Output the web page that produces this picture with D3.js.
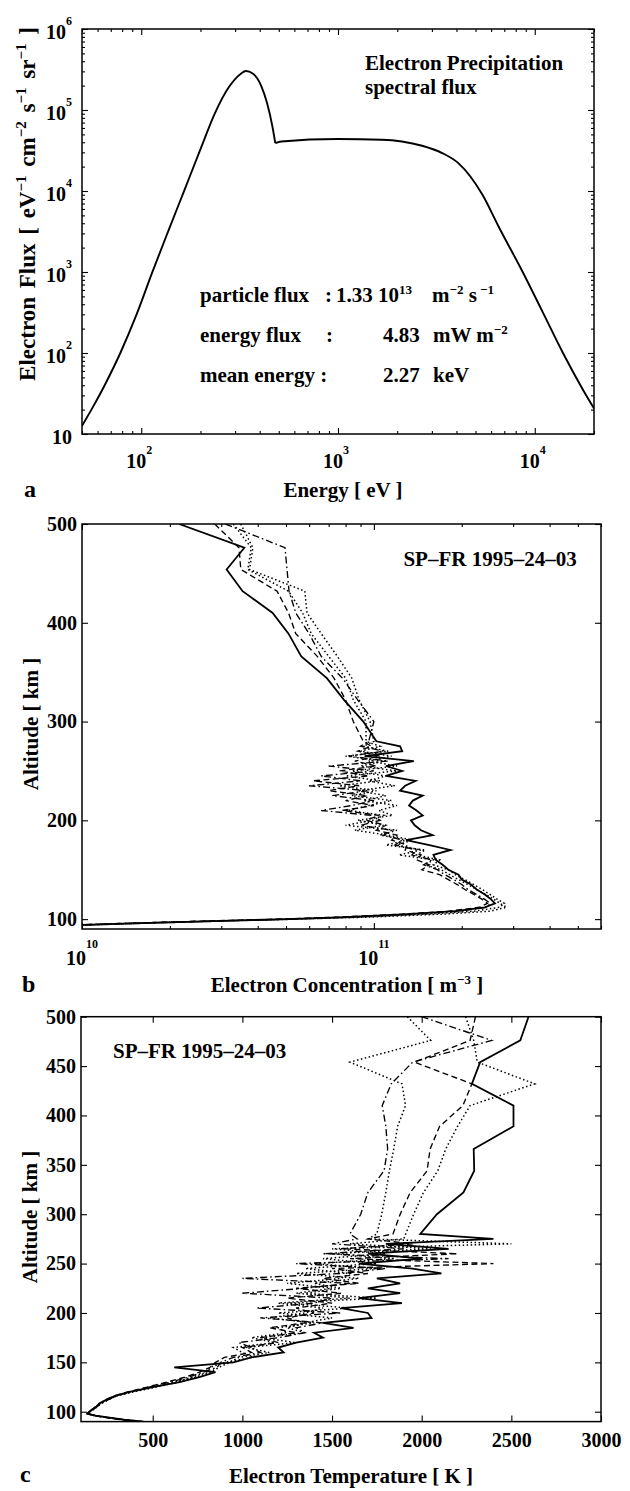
<!DOCTYPE html>
<html><head><meta charset="utf-8">
<script src="https://cdn.jsdelivr.net/npm/d3@7"></script>
<style>
body{margin:0;background:#fff}
svg text{font-family:"Liberation Serif","Times New Roman",Times,serif;font-weight:bold;fill:#000;white-space:pre}
</style>
</head><body>
<svg id="fig" width="630" height="1491"></svg>
<script>
// ---------------- DATA ----------------
// Panel a: electron precipitation spectrum
const energyEV = [50, 56.3, 64.9, 78.3, 94.5, 114, 138, 166, 201, 237, 279, 321, 340, 370, 407, 436, 464, 480, 515, 1000, 1670, 2113, 2676, 3386, 4088, 4708, 5424, 6546, 8683, 10990, 13910, 17600, 20000];
const electronFlux = [12.6, 20.7, 39.2, 100, 295, 1004, 3316, 10340, 33860, 91600, 192000, 281000, 303000, 281000, 199000, 122000, 62700, 39000, 40900, 43800, 43000, 40900, 36200, 29400, 22080, 15120, 8970, 3646, 1000, 317, 100, 35, 20.7];
const kinkIndex = 17; // sharp corner at 480 eV

// Panels b and c: shared altitude grid [km]
const altitudes = [500,476,454,432,410,389,366,344,322,300,280,
  275,270,265,260,255,250,245,240,235,230,225,220,215,210,205,200,195,190,185,180,175,170,165,160,155,150,145,140,135,130,125,120,
  116,112,108,105,102,100,98,96,94,92,90];

// Panel b: electron concentration, units of 1e10 m^-3
const neSolid = [2.15,3.6,3.13,3.55,4.5,5.1,5.64,6.9,7.9,9.2,10.2,
  12.3,12.5,9.3,13.7,11.0,12.5,11.0,13.9,12.8,12.3,14.7,13.6,13.2,14.0,14.7,13.4,13.8,14.5,15.9,12.9,15.5,18.3,16.0,16.3,17.2,18.0,19.5,20.0,21.5,22.5,24.0,25.2,
  26.0,24.0,19.0,13.0,8.0,5.0,2.8,1.6,0.95,0.8,0.6];
const neDashDot = [3.1,4.96,5.04,5.12,5.4,6.0,6.6,7.8,8.8,10.0,9.6,
  9.0,10.8,8.2,11.2,7.0,10.0,6.6,9.0,6.0,9.5,7.2,10.0,8.4,6.6,9.8,10.5,9.0,11.5,10.8,12.5,11.8,14.0,13.5,15.8,14.8,16.5,17.5,18.8,20.0,21.0,22.5,24.0,
  25.0,24.5,19.5,13.5,8.0,5.0,2.7,1.5,0.95,0.75,0.55];
const neDotted1 = [3.3,3.8,3.7,5.1,5.7,6.1,7.0,8.0,8.5,9.4,9.4,
  10.5,9.0,11.5,9.6,12.0,8.4,11.0,9.6,11.8,8.8,11.0,9.2,12.0,10.4,11.6,8.8,10.8,8.6,11.2,13.5,12.0,14.5,12.2,16.0,15.0,17.0,18.2,19.5,21.0,22.5,24.2,25.8,
  27.0,28.5,25.0,17.0,9.5,5.5,3.0,1.7,1.05,0.8,0.6];
const neDashed = [2.85,3.45,3.5,4.66,5.1,5.4,6.4,7.3,8.0,8.5,9.2,
  9.8,8.8,10.5,8.6,10.2,7.6,9.6,6.2,8.9,7.0,9.5,8.0,10.0,7.8,10.4,9.4,11.0,10.2,12.0,11.5,13.0,12.8,14.5,14.0,15.5,14.6,16.8,18.0,19.3,20.5,22.0,23.5,
  24.5,23.0,18.0,12.5,7.5,4.8,2.6,1.5,0.95,0.75,0.55];
const neDotted2 = [3.5,3.85,3.75,5.8,5.9,6.6,7.5,8.4,8.9,9.7,10.0,
  9.2,11.2,8.0,10.8,9.0,12.0,8.0,10.5,7.6,10.2,8.4,11.5,9.6,8.2,10.8,9.9,8.0,12.0,10.5,13.0,11.0,15.0,14.0,16.8,16.0,18.0,19.0,20.5,22.0,23.5,25.0,26.5,
  28.0,27.0,22.0,15.0,9.0,5.5,3.0,1.7,1.05,0.8,0.6];

// Panel c: electron temperature [K]
const teSolid = [2596,2550,2326,2280,2512,2512,2290,2293,2233,2085,1992,
  2400,1800,2150,1700,2000,1650,1950,2110,1750,1880,1700,1880,1650,1890,1550,1700,1720,1450,1620,1400,1450,1300,1200,1230,1050,950,620,850,760,650,500,370,
  290,240,200,185,160,145,135,180,260,340,450];
const teDashDot = [2000,2390,1950,1830,1780,1800,1810,1790,1700,1660,1600,
  1640,1500,1900,1450,2150,1300,1800,1550,1000,1600,1350,1000,1500,1400,1080,1550,1100,1450,1300,1350,1200,980,1050,1100,950,880,860,780,700,600,480,370,
  300,250,210,190,165,150,140,185,250,330,430];
const teDashed = [2300,2270,1960,2280,2230,2100,2047,2030,1936,1880,1840,
  1700,1950,1550,2200,1600,2400,1500,1700,1450,1650,1300,1550,1250,1500,1300,1400,1250,1350,1150,1300,1100,1200,1000,1050,900,850,820,760,680,580,470,360,
  285,235,200,180,160,145,135,170,240,320,440];
const teDotted1 = [1920,2050,1600,1890,1910,1866,1844,1820,1800,1777,1750,
  1700,2500,1500,1800,1450,1750,1350,1600,1550,1250,1500,1300,1600,1200,1450,1350,1150,1400,1200,1250,1050,1180,950,1000,1060,900,820,800,720,620,500,380,
  295,245,205,185,165,150,140,175,245,330,440];
const teDotted2 = [2245,2290,2310,2630,2270,2200,2134,2090,2010,1955,1911,
  1900,1600,2050,1500,1850,1400,1750,1300,1650,1400,1550,1350,1750,1250,1600,1200,1500,1350,1250,1350,1100,1300,1020,1150,980,930,870,820,740,640,520,390,
  300,250,210,190,170,150,140,175,250,335,445];

// Tick values and labels
const aXTicks = [100, 1000, 10000];
const aXTickExp = ["2", "3", "4"];
const aYTicks = [10, 100, 1000, 10000, 100000, 1000000];
const aYTickExp = ["", "2", "3", "4", "5", "6"];
const bXTicks = [1e10, 1e11];
const bXTickExp = ["10", "11"];
const altTicksB = [100, 200, 300, 400, 500];
const altTicksC = [100, 150, 200, 250, 300, 350, 400, 450, 500];
const tempTicks = [500, 1000, 1500, 2000, 2500, 3000];

// ---------------- DRAWING ----------------
const svg = d3.select("#fig");
const lineStyles = [
  {name:"dashdot", dash:"7,3,1.6,3", w:1.35},
  {name:"dotted1", dash:"1.5,2.5", w:1.5},
  {name:"dashed", dash:"6,3.5", w:1.35},
  {name:"dotted2", dash:"1.5,2.5", w:1.5},
  {name:"solid", dash:null, w:1.8}
];

function rich(parent, x, y, parts, o = {}) {
  const size = o.size || 20, supSize = o.supSize || Math.round(size * 0.62), raise = o.raise || Math.round(size * 0.5);
  const t = parent.append("text").attr("x", x).attr("y", y).attr("font-size", size)
    .attr("text-anchor", o.anchor || "start");
  if (o.transform) t.attr("transform", o.transform);
  if (o.wordSpacing) t.attr("word-spacing", o.wordSpacing);
  let up = false;
  parts.forEach(p => {
    const isSup = Array.isArray(p);
    const ts = t.append("tspan").text(isSup ? p[0] : p);
    if (isSup) { ts.attr("font-size", supSize); if (!up) { ts.attr("dy", -raise); up = true; } }
    else if (up) { ts.attr("dy", raise); up = false; }
  });
  return t;
}

function frame(g, x, y, xMaj, xMin, yMaj, yMin) {
  const [x0, x1] = x.range(), [y0, y1] = y.range();
  const ax = (gen, tr, vals, len) => {
    const a = g.append("g").attr("transform", tr).call(gen.tickValues(vals).tickSize(-len).tickFormat(""));
    a.select(".domain").remove();
    a.selectAll("line").attr("stroke", "#000").attr("stroke-width", 1.1);
  };
  ax(d3.axisBottom(x), `translate(0,${y0})`, xMaj, 6);
  ax(d3.axisTop(x), `translate(0,${y1})`, xMaj, 6);
  ax(d3.axisLeft(y), `translate(${x0},0)`, yMaj, 6);
  ax(d3.axisRight(y), `translate(${x1},0)`, yMaj, 6);
  if (xMin.length) { ax(d3.axisBottom(x), `translate(0,${y0})`, xMin, 3); ax(d3.axisTop(x), `translate(0,${y1})`, xMin, 3); }
  if (yMin.length) { ax(d3.axisLeft(y), `translate(${x0},0)`, yMin, 3); ax(d3.axisRight(y), `translate(${x1},0)`, yMin, 3); }
  g.append("rect").attr("x", x0).attr("y", y1).attr("width", x1 - x0).attr("height", y0 - y1)
    .attr("fill", "none").attr("stroke", "#000").attr("stroke-width", 1.5);
}

function clip(id, x, y) {
  const [x0, x1] = x.range(), [y0, y1] = y.range();
  svg.append("clipPath").attr("id", id).append("rect")
    .attr("x", x0).attr("y", y1).attr("width", x1 - x0).attr("height", y0 - y1);
}

// ===== Panel a =====
{
  const x = d3.scaleLog().domain([50, 20000]).range([82, 594]);
  const y = d3.scaleLog().domain([10, 1e6]).range([434, 29]);
  const g = svg.append("g");
  clip("clipA", x, y);
  const pts = energyEV.map((e, i) => ({e, f: electronFlux[i]}));
  const line = d3.line().x(d => x(d.e)).y(d => y(d.f)).curve(d3.curveMonotoneX);
  [pts.slice(0, kinkIndex + 1), pts.slice(kinkIndex)].forEach(seg =>
    g.append("path").attr("d", line(seg)).attr("fill", "none").attr("stroke", "#000")
      .attr("stroke-width", 1.9).attr("clip-path", "url(#clipA)"));
  const xMin = x.ticks().filter(v => !aXTicks.includes(v));
  const yMin = y.ticks().filter(v => !aYTicks.includes(v));
  frame(g, x, y, aXTicks, xMin, aYTicks, yMin);
  aXTicks.forEach((v, i) => rich(g, x(v) - 2, 468, ["10", [aXTickExp[i]]], {size: 20, supSize: 12, raise: 14, anchor: "middle"}));
  aYTicks.forEach((v, i) => {
    const parts = aYTickExp[i] ? ["10", [aYTickExp[i]]] : ["10"];
    rich(g, 72, y(v) + 10, parts, {size: 20, supSize: 12, raise: 14, anchor: "end"});
  });
  rich(g, 343, 497, ["Energy [ eV ]"], {size: 21, anchor: "middle"});
  rich(g, 24, 497, ["a"], {size: 24});
  rich(g, 0, 0, ["Electron Flux [ eV", ["−1"], " cm", ["−2"], " s", ["−1"], " sr", ["−1"], " ]"],
    {size: 23, supSize: 15, raise: 9, anchor: "middle", wordSpacing: 3, transform: "translate(35,204) rotate(-90)"});
  rich(g, 365, 70, ["Electron Precipitation"], {size: 21});
  rich(g, 365, 94, ["spectral flux"], {size: 21});
  rich(g, 200, 302, ["particle flux"], {size: 21});
  rich(g, 325, 302, [":"], {size: 21});
  rich(g, 336, 302, ["1.33 10", ["13"]], {size: 21, supSize: 13, raise: 8});
  rich(g, 432, 302, ["m", ["−2"], " s", [" −1"]], {size: 21, supSize: 13, raise: 8});
  rich(g, 200, 342, ["energy flux"], {size: 21});
  rich(g, 326, 342, [":"], {size: 21});
  rich(g, 383, 342, ["4.83"], {size: 21});
  rich(g, 433, 342, ["mW m", ["−2"]], {size: 21, supSize: 13, raise: 8});
  rich(g, 200, 382, ["mean energy :"], {size: 21});
  rich(g, 383, 382, ["2.27"], {size: 21});
  rich(g, 433, 382, ["keV"], {size: 21});
}

// ===== Panel b =====
{
  const x = d3.scaleLog().domain([1e10, 6e11]).range([82, 601]);
  const y = d3.scaleLinear().domain([90, 500]).range([929, 524]);
  const g = svg.append("g");
  clip("clipB", x, y);
  const series = [neDashDot, neDotted1, neDashed, neDotted2, neSolid];
  const line = d3.line().x(d => x(d.v * 1e10)).y(d => y(d.a));
  series.forEach((s, k) => {
    const st = lineStyles[k];
    g.append("path").attr("d", line(altitudes.map((a, i) => ({a, v: s[i]}))))
      .attr("fill", "none").attr("stroke", "#000").attr("stroke-width", st.w)
      .attr("stroke-dasharray", st.dash).attr("clip-path", "url(#clipB)");
  });
  const xMin = x.ticks().filter(v => !bXTicks.includes(v));
  frame(g, x, y, bXTicks, xMin, altTicksB, []);
  bXTicks.forEach((v, i) => rich(g, x(v), 965, ["10", [bXTickExp[i]]], {size: 20, supSize: 12, raise: 17, anchor: "middle"}));
  const yl = g.append("g").attr("transform", "translate(82,0)")
    .call(d3.axisLeft(y).tickValues(altTicksB).tickSize(0).tickPadding(5).tickFormat(d3.format("d")));
  yl.select(".domain").remove();
  yl.selectAll("text").attr("font-size", 20).attr("font-family", null);
  rich(g, 347, 992, ["Electron Concentration [ m", ["−3"], " ]"], {size: 21, supSize: 13, raise: 8, anchor: "middle"});
  rich(g, 22, 992, ["b"], {size: 24});
  rich(g, 0, 0, ["Altitude [ km ]"], {size: 21, anchor: "middle", transform: "translate(38,724) rotate(-90)"});
  rich(g, 490, 566, ["SP–FR 1995–24–03"], {size: 21, anchor: "middle"});
}

// ===== Panel c =====
{
  const x = d3.scaleLinear().domain([100, 3000]).range([81, 601]);
  const y = d3.scaleLinear().domain([90, 500]).range([1421.6, 1016.7]);
  const g = svg.append("g");
  clip("clipC", x, y);
  const series = [teDashDot, teDotted1, teDashed, teDotted2, teSolid];
  const line = d3.line().x(d => x(d.v)).y(d => y(d.a));
  series.forEach((s, k) => {
    const st = lineStyles[k];
    g.append("path").attr("d", line(altitudes.map((a, i) => ({a, v: s[i]}))))
      .attr("fill", "none").attr("stroke", "#000").attr("stroke-width", st.w)
      .attr("stroke-dasharray", st.dash).attr("clip-path", "url(#clipC)");
  });
  frame(g, x, y, tempTicks, [], altTicksC, []);
  const xl = g.append("g").attr("transform", "translate(0,1421.6)")
    .call(d3.axisBottom(x).tickValues(tempTicks).tickSize(0).tickPadding(11).tickFormat(d3.format("d")));
  xl.select(".domain").remove();
  xl.selectAll("text").attr("font-size", 20).attr("font-family", null);
  const yl = g.append("g").attr("transform", "translate(81,0)")
    .call(d3.axisLeft(y).tickValues(altTicksC).tickSize(0).tickPadding(5).tickFormat(d3.format("d")));
  yl.select(".domain").remove();
  yl.selectAll("text").attr("font-size", 20).attr("font-family", null);
  rich(g, 351, 1483, ["Electron Temperature [ K ]"], {size: 21, anchor: "middle"});
  rich(g, 20, 1482, ["c"], {size: 24});
  rich(g, 0, 0, ["Altitude [ km ]"], {size: 21, anchor: "middle", transform: "translate(37,1217) rotate(-90)"});
  rich(g, 113, 1058, ["SP–FR 1995–24–03"], {size: 21});
}
</script>
</body></html>
